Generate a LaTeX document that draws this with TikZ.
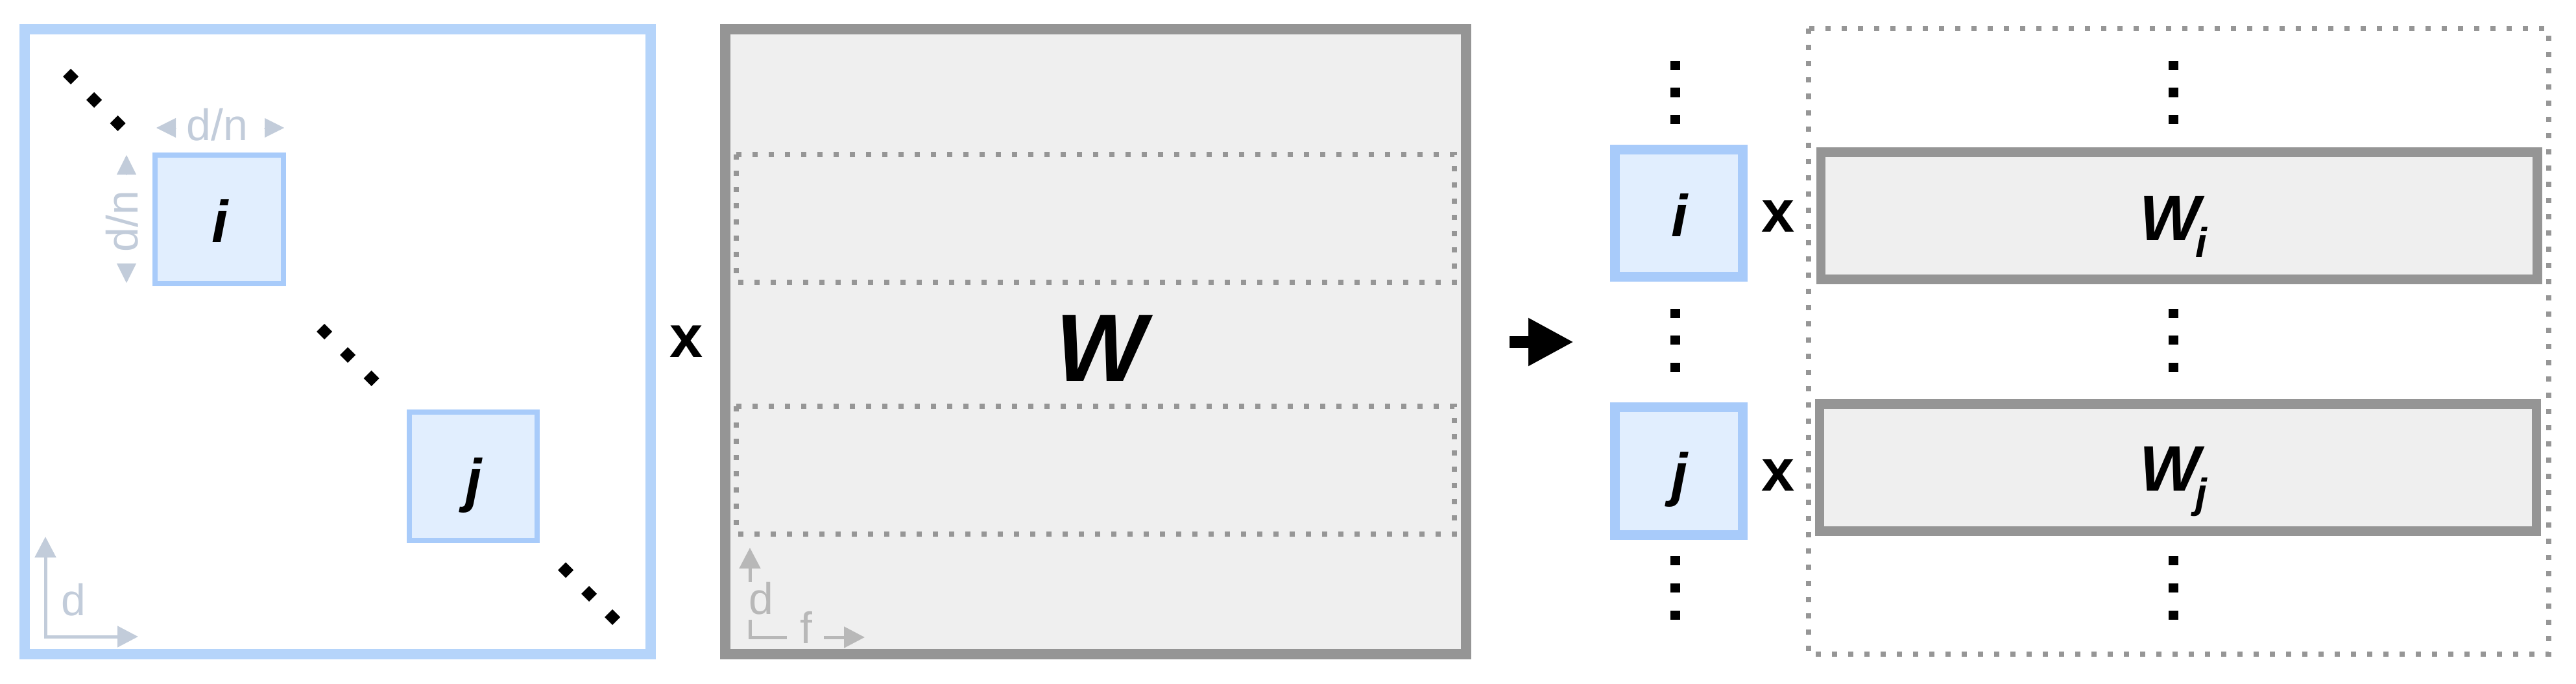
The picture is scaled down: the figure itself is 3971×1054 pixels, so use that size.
\documentclass[tikz,border=0pt]{standalone}
\usepackage{fontspec}
\setmainfont{Liberation Sans}
\usetikzlibrary{arrows.meta}
\definecolor{bigblue}{HTML}{B5D4FA}
\definecolor{cellblue}{HTML}{E1EEFE}
\definecolor{celledge}{HTML}{A8CBFA}
\definecolor{wgrey}{HTML}{959595}
\definecolor{wfill}{HTML}{EFEFEF}
\definecolor{dotgrey}{HTML}{969696}
\definecolor{dimgrey}{HTML}{C2CCDA}
\definecolor{axgrey}{HTML}{B8B8B8}

\begin{document}
\begin{tikzpicture}[x=1pt,y=-1pt,
  cell/.style={draw=celledge,fill=cellblue,line width=8pt},
  cellR/.style={draw=celledge,fill=cellblue,line width=15pt},
  wbox/.style={draw=wgrey,fill=wfill,line width=16.5pt},
  wrow/.style={draw=wgrey,fill=wfill,line width=14.5pt},
  dotbox/.style={draw=dotgrey,line width=8pt,dash pattern=on 8pt off 17pt},
  dimtip/.style={dimgrey,line width=1pt,-{Triangle[length=30pt,width=30pt]}},
  dimtext/.style={text=dimgrey,inner sep=0,font=\fontsize{68}{68}\selectfont},
  axline/.style={line width=5pt},
  letter/.style={inner sep=0,font=\fontsize{91}{91}\selectfont\bfseries\itshape},
  times/.style={inner sep=0,font=\fontsize{92}{92}\selectfont\bfseries}]
\useasboundingbox (0,0) rectangle (3971,1054);
\fill[white] (0,0) rectangle (3971,1054);

\draw[bigblue,line width=16.5pt] (38,45) rectangle (1003,1008);
\draw[cell] (239,239) rectangle (437,437);
\draw[cell] (631,635) rectangle (828,833);
\node[letter,anchor=base] (ileft) at (339,373) {i};
\node[letter,anchor=base] (jleft) at (730,771) {j};
\foreach \x/\y in {109/118,145/154,181.5/190,500/511,536/547,572.5/583,872/878.5,908/915,944/951}
  \fill (\x-12,\y) -- (\x,\y-12) -- (\x+12,\y) -- (\x,\y+12) -- cycle;
\node[dimtext,anchor=base] (dnh) at (335,216) {d/n};
\draw[dimtip] (271,197) -- (241,197);
\draw[dimtip] (407,197) -- (438,197);
\node[dimtext,rotate=90,anchor=base] (dnv) at (212,341) {d/n};
\draw[dimtip] (195,270) -- (195,239);
\draw[dimtip] (195,406) -- (195,436);
\draw[dimgrey,axline,{Triangle[length=32pt,width=32pt]}-{Triangle[length=32pt,width=32pt]}] (70,827) -- (70,981) -- (213,981);
\node[dimtext,anchor=base] (dleft) at (113,948) {d};

\node[times,anchor=base] (xmain) at (1058,550) {x};

\draw[wbox] (1118,45) rectangle (2260,1008);
\draw[dotbox] (1135,238) rectangle (2242,435);
\draw[dotbox] (1135,626) rectangle (2242,823);
\node[letter,anchor=base,font=\fontsize{148}{148}\selectfont\bfseries\itshape] (wmain) at (1697,587) {W};
\draw[axgrey,axline,-{Triangle[length=32pt,width=32pt]}] (1156,897) -- (1156,844);
\draw[axgrey,axline] (1156,955) -- (1156,982) -- (1213,982);
\draw[axgrey,axline,-{Triangle[length=32pt,width=32pt]}] (1270,982) -- (1333,982);
\node[dimtext,text=axgrey,anchor=base] (dw) at (1173,946) {d};
\node[dimtext,text=axgrey,anchor=base] (fw) at (1243,991) {f};

\coordinate (arrowtail) at (2327,527);
\coordinate (arrowhead) at (2426,527);
\draw[line width=18pt,-{Triangle[length=70pt,width=69pt]}] (arrowtail) -- (arrowhead);

\foreach \y in {101,142.5,183.5,483,524,566,864,906,948} {
  \fill (2574.5,\y-7) rectangle ++(15,14);
  \fill (3342.5,\y-7) rectangle ++(15,14);
}
\draw[cellR] (2489.5,230.5) rectangle (2686.5,426.5);
\draw[cellR] (2489.5,627.5) rectangle (2686.5,824.5);
\node[letter,anchor=base] (iright) at (2589,364) {i};
\node[letter,anchor=base] (jright) at (2589,762) {j};
\node[times,anchor=base] (xi) at (2741,357) {x};
\node[times,anchor=base] (xj) at (2741,756) {x};
\draw[dotbox] (2787.5,44.5) rectangle (3928.5,1008);
\draw[wrow] (2807,234.5) rectangle (3911.5,430.5);
\draw[wrow] (2805,622.5) rectangle (3910,818.5);
\node[letter,anchor=base west,font=\fontsize{99}{99}\selectfont\bfseries\itshape] (wi) at (3298,370)
  {W\kern-7pt\raisebox{-26pt}{\fontsize{64}{64}\selectfont i}};
\node[letter,anchor=base west,font=\fontsize{99}{99}\selectfont\bfseries\itshape] (wj) at (3298,756)
  {W\kern-7pt\raisebox{-26pt}{\fontsize{64}{64}\selectfont j}};

\end{tikzpicture}
\end{document}
